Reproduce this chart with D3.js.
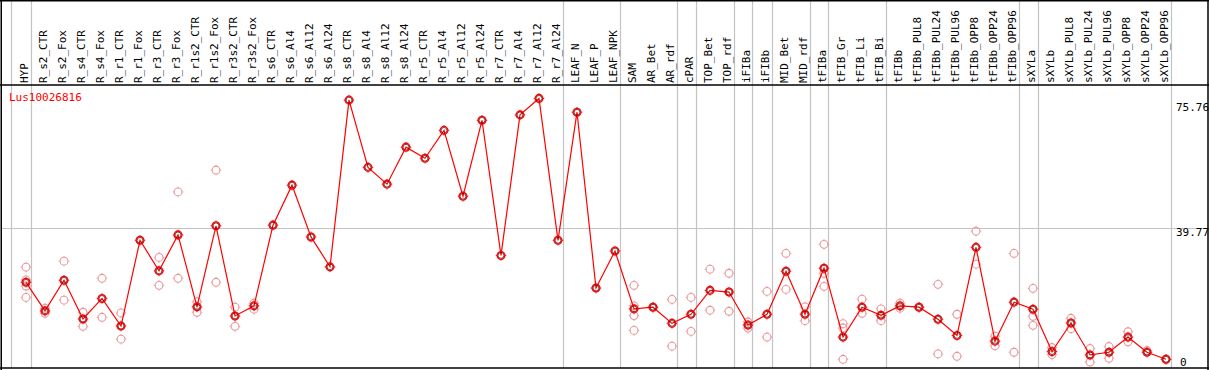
<!DOCTYPE html>
<html>
<head>
<meta charset="utf-8">
<script src="https://cdn.jsdelivr.net/npm/d3@7/dist/d3.min.js"></script>
<style>
body{margin:0;background:#fff;}
svg text{font-family:"DejaVu Sans Mono",monospace;font-size:11px;}
</style>
</head>
<body>
<script>
// chart data
var categories = ["HYP","R_s2_CTR","R_s2_Fox","R_s4_CTR","R_s4_Fox","R_r1_CTR","R_r1_Fox","R_r3_CTR","R_r3_Fox",
  "R_r1s2_CTR","R_r1s2_Fox","R_r3s2_CTR","R_r3s2_Fox","R_s6_CTR","R_s6_Al4","R_s6_Al12","R_s6_Al24",
  "R_s8_CTR","R_s8_Al4","R_s8_Al12","R_s8_Al24","R_r5_CTR","R_r5_Al4","R_r5_Al12","R_r5_Al24",
  "R_r7_CTR","R_r7_Al4","R_r7_Al12","R_r7_Al24","LEAF_N","LEAF_P","LEAF_NPK","SAM","AR_Bet","AR_rdf",
  "cPAR","TOP_Bet","TOP_rdf","iFIBa","iFIBb","MID_Bet","MID_rdf","tFIBa","tFIB_Gr","tFIB_Li","tFIB_Bi",
  "tFIBb","tFIBb_PUL8","tFIBb_PUL24","tFIBb_PUL96","tFIBb_OPP8","tFIBb_OPP24","tFIBb_OPP96",
  "sXYLa","sXYLb","sXYLb_PUL8","sXYLb_PUL24","sXYLb_PUL96","sXYLb_OPP8","sXYLb_OPP24","sXYLb_OPP96"];

var means = [23.7,15.2,24.3,12.8,18.9,10.7,36.2,27.1,37.8,16.4,40.5,13.7,16.7,40.7,52.6,37.2,28.3,
  77.9,57.9,52.9,63.9,60.6,68.9,49.3,71.9,31.7,73.5,78.4,36.2,74.3,22.0,33.0,15.8,16.3,11.5,
  14.2,21.3,20.8,11.0,14.2,27.0,14.2,27.9,7.4,16.3,13.9,16.7,16.3,12.7,7.9,34.1,6.2,17.8,
  15.7,3.1,11.6,2.1,2.9,7.4,2.9,0.8];

var replicates = [
  [28.2,24.4,22.6,19.2],[16.0,14.5],[30.0,18.4],[14.8,10.6],[24.9,13.3],[14.6,6.8],[],[31.1,22.8],[50.6,24.9],
  [17.9,14.8],[57.1,23.7],[16.3,10.6],[17.5,15.7],[],[],[],[],
  [],[],[],[],[],[],[],[],[],[],[],[],[],[],[],
  [22.8,16.7,13.8,9.4],[16.3],[18.6,4.7],[19.2,9.1],[27.6,15.4],[26.4,15.1],[11.9,10.1],[21.0,7.4],
  [32.3,21.6],[16.4,12.3],[35.0,26.4,22.5],[11.4,10.1,0.8],[18.7,14.5],[15.8,12.3],
  [17.5,16.0],[16.3],[23.1,2.4],[14.2,1.7],[38.9,29.1],[7.7,4.8],[32.3,2.9],
  [21.9,13.6,10.9],[4.3,2.2],[13.0,9.9],[4.0,0.0],[4.6,1.1],[9.0,6.0],[3.4],[0.8]];

var yTicks = [0, 39.77, 75.76];
var groupEnds = [-1,0,28,31,34,35,37,38,39,41,42,45,52,53,60]; // gridline after these indexes
var geneName = "Lus10026816";

var svgwidth = 1209, svgheight = 370;
var headerY = 85, plotBottom = 368;

var svg = d3.select("body").append("svg")
  .attr("width", svgwidth)
  .attr("height", svgheight);

var x = d3.scaleLinear().domain([0, categories.length - 1]).range([26, 1166]);
var y = d3.scaleLinear().domain([0, 75.76]).range([362, 107.3]);

// vertical group lines
svg.selectAll("line.vgrid").data(groupEnds).enter().append("line")
  .attr("class", "vgrid")
  .attr("x1", function(d){ return Math.round(x(d) + 4.5) + 0.5; })
  .attr("x2", function(d){ return Math.round(x(d) + 4.5) + 0.5; })
  .attr("y1", 0).attr("y2", plotBottom)
  .attr("stroke", "#c3c3c3").attr("stroke-width", 1.2);

// horizontal grid (middle ticks)
svg.selectAll("line.hgrid").data(yTicks.slice(1, -1)).enter().append("line")
  .attr("class", "hgrid")
  .attr("x1", 1).attr("x2", 1208)
  .attr("y1", function(d){ return Math.round(y(d)) + 0.5; })
  .attr("y2", function(d){ return Math.round(y(d)) + 0.5; })
  .attr("stroke", "#c3c3c3").attr("stroke-width", 1.2);

// frame
var frame = svg.append("g").attr("stroke", "#000").attr("stroke-width", 1.5);
frame.append("line").attr("x1", 0).attr("x2", svgwidth).attr("y1", 0.75).attr("y2", 0.75);
frame.append("line").attr("x1", 0).attr("x2", svgwidth).attr("y1", headerY).attr("y2", headerY);
frame.append("line").attr("x1", 0).attr("x2", svgwidth).attr("y1", plotBottom).attr("y2", plotBottom);
frame.append("line").attr("x1", 1.25).attr("x2", 1.25).attr("y1", 0).attr("y2", svgheight);
frame.append("line").attr("x1", 1208).attr("x2", 1208).attr("y1", 0).attr("y2", svgheight);

// category labels
svg.selectAll("text.cat").data(categories).enter().append("text")
  .attr("class", "cat")
  .attr("transform", function(d, i){ return "translate(" + (Math.round(x(i)) + 2) + "," + (headerY - 2) + ") rotate(-90)"; })
  .attr("fill", "#000")
  .text(function(d){ return d; });

// y labels on right
svg.selectAll("text.ytick").data(yTicks).enter().append("text")
  .attr("class", "ytick")
  .attr("x", function(d){ return d === 0 ? 1180 : 1176; })
  .attr("y", function(d, i){ return y(d) + (i > 0 && i < yTicks.length - 1 ? 3.5 : 0); })
  .attr("dy", "0.35em")
  .attr("fill", "#000")
  .text(function(d){ return d; });

svg.append("text")
  .attr("x", 9).attr("y", 101)
  .attr("fill", "#f00")
  .text(geneName);

function marker(g, cx, cy, col, w) {
  var m = g.append("g").attr("transform", "translate(" + cx + "," + cy + ")")
    .attr("stroke", col).attr("fill", "none");
  m.append("circle").attr("r", 3.9).attr("stroke-width", w);
  [[0,-4,0,-5.3],[0,4,0,5.3],[-4,0,-5.3,0],[4,0,5.3,0]].forEach(function(t){
    m.append("line").attr("x1", t[0]).attr("y1", t[1]).attr("x2", t[2]).attr("y2", t[3])
      .attr("stroke-width", 0.9);
  });
  return m;
}

// replicate points
var rep = svg.append("g");
replicates.forEach(function(vals, i){
  vals.forEach(function(v){ marker(rep, x(i), y(v), "#e8999b", 1.1); });
});

// mean line
var line = d3.line().x(function(d, i){ return x(i); }).y(function(d){ return y(d); });
svg.append("path").datum(means)
  .attr("d", line)
  .attr("fill", "none")
  .attr("stroke", "#f00")
  .attr("stroke-width", 1.2);

var mg = svg.append("g");
means.forEach(function(v, i){
  marker(mg, x(i), y(v), "#f00", 1.3);
  mg.append("circle").attr("cx", x(i)).attr("cy", y(v)).attr("r", 2.9)
    .attr("fill", "none").attr("stroke", "#400").attr("stroke-width", 0.7);
});
</script>
</body>
</html>
